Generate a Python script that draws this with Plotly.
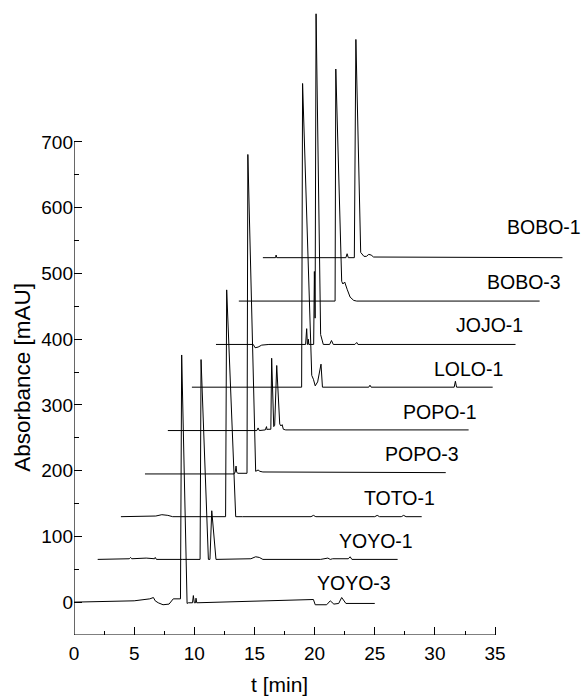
import plotly.graph_objects as go

# Sample names (bottom to top)
names = ["YOYO-3", "YOYO-1", "TOTO-1", "POPO-3", "POPO-1", "LOLO-1", "JOJO-1", "BOBO-3", "BOBO-1"]

# Baseline absorbance of each stacked chromatogram [mAU]
baselines = [0, 65, 130, 195, 261, 327, 392, 458, 524]

# Retention times [min] and absorbance above baseline [mAU]
yoyo3_t = [0, 5.0, 6.3, 6.6, 6.75, 7.0, 7.4, 7.9, 8.25, 8.4, 8.85, 8.95, 9.4, 9.5, 9.85, 9.92, 10.0, 10.1, 10.14, 10.2, 12.0, 19.9, 20.05, 21.0, 21.3, 21.6, 22.0, 22.25, 22.6, 25.0]
yoyo3_a = [0, 2, 5, 7, 2, -1, -4, -3, 5, 5, 5, 376, -2, -1, -1, 10, -1, -1, 6, -1, 0, 4, -4, -4, 2, -3, -2, 7, -2, -2]

yoyo1_t = [1.97, 4.6, 4.7, 4.8, 6.0, 6.7, 6.75, 6.85, 9.0, 10.48, 10.56, 11.17, 11.3, 11.45, 11.8, 12.5, 14.7, 15.1, 15.4, 15.7, 20.5, 21.1, 21.3, 21.5, 22.8, 22.95, 23.1, 26.9]
yoyo1_a = [0, 1, 3, 1, 2, 1, 3, 0, 0, 0, 304, 0, 0, 74, 0, 0, 1, 4, 3, 0, 0, 2, 0, 1, 1, 4, 0, 0]

toto1_t = [3.9, 6.8, 7.3, 7.8, 8.2, 12.6, 12.69, 13.44, 14.0, 19.7, 19.9, 20.1, 25.0, 25.2, 25.4, 27.2, 27.4, 27.6, 28.9]
toto1_a = [0, 1, 3, 2, 0, 0, 345, 0, 0, 0, 2, 0, 0, 2, 0, 0, 2, 0, 0]

popo3_t = [5.9, 13.3, 13.4, 13.47, 13.52, 13.6, 14.38, 14.45, 15.1, 15.3, 15.45, 15.7, 30.9]
popo3_a = [0, 0, 3, 12, 3, 1, 1, 486, 4, 6, 4, 3, 2]

popo1_t = [7.8, 15.2, 15.3, 15.4, 15.9, 16.0, 16.05, 16.1, 16.36, 16.43, 16.6, 16.68, 16.85, 17.1, 17.2, 17.3, 17.4, 17.6, 32.8]
popo1_a = [0, 0, 4, 0, 1, 6, 1, 2, 2, 110, 6, 8, 99, 10, 7, 9, 2, 1, 1]

lolo1_t = [9.8, 18.92, 19.0, 19.76, 19.9, 20.05, 20.25, 20.53, 20.65, 24.5, 24.6, 24.7, 31.6, 31.7, 31.8, 34.8]
lolo1_a = [0, 0, 462, 18, 12, 2, 8, 35, 0, 0, 3, 0, 0, 9, 0, 0]

jojo1_t = [11.8, 14.9, 15.05, 15.3, 15.6, 16.2, 19.25, 19.34, 19.4, 19.44, 19.48, 19.52, 19.92, 19.98, 20.04, 20.12, 20.5, 20.72, 21.25, 21.4, 21.55, 23.35, 23.5, 23.6, 36.7]
jojo1_a = [0, 0, -5, -4, -1, 0, 0, 24, 0, 0, 8, 0, 0, 111, 40, 503, 15, 0, 0, 6, 0, 0, 3, 0, 0]

bobo3_t = [13.7, 21.7, 21.76, 22.25, 22.35, 22.5, 22.7, 22.95, 23.25, 23.5, 38.7]
bobo3_a = [0, 0, 353, 30, 26, 29, 18, 6, 1, 0, 0]

bobo1_t = [15.7, 16.75, 16.8, 16.85, 22.6, 22.7, 22.8, 23.3, 23.43, 23.83, 24.1, 24.3, 24.5, 24.7, 24.9, 40.6]
bobo1_a = [0, 0, 4, 0, 0, 6, 0, 0, 332, 8, 2, 2, 5, 4, 1, 0]

times = [yoyo3_t, yoyo1_t, toto1_t, popo3_t, popo1_t, lolo1_t, jojo1_t, bobo3_t, bobo1_t]
absorb = [yoyo3_a, yoyo1_a, toto1_a, popo3_a, popo1_a, lolo1_a, jojo1_a, bobo3_a, bobo1_a]

# Label anchor (right end) positions in data units
label_t = [26.5, 28.35, 30.17, 32.17, 33.67, 35.83, 37.49, 40.65, 42.31]
label_a = [29, 93, 158, 225, 290, 355, 422, 487, 571]

x_ticks = [0, 5, 10, 15, 20, 25, 30, 35]
x_minor = [2.5, 7.5, 12.5, 17.5, 22.5, 27.5, 32.5]
y_ticks = [0, 100, 200, 300, 400, 500, 600, 700]
y_minor = [50, 150, 250, 350, 450, 550, 650]

FONT = "Liberation Sans, Arial, Helvetica, sans-serif"

fig = go.Figure()
for name, base, t, a in zip(names, baselines, times, absorb):
    fig.add_trace(go.Scatter(
        x=t, y=[base + v for v in a], mode="lines", name=name,
        line=dict(color="black", width=1), showlegend=False,
    ))

for name, lx, ly in zip(names, label_t, label_a):
    fig.add_annotation(x=lx, y=ly, xref="x", yref="y", text=name, showarrow=False,
                       xanchor="right", yanchor="middle",
                       font=dict(family=FONT, size=19.5, color="black"))

# axis lines (only over the labelled span)
fig.add_shape(type="line", xref="x", yref="y", x0=0, x1=x_ticks[-1], y0=-50, y1=-50,
              line=dict(color="black", width=1.2), layer="above")
fig.add_shape(type="line", xref="x", yref="y", x0=0, x1=0, y0=-50, y1=y_ticks[-1],
              line=dict(color="black", width=1.2), layer="above")

fig.add_annotation(x=17.1, y=-0.0985, xref="x", yref="paper", text="t [min]", showarrow=False,
                   xanchor="center", yanchor="bottom", font=dict(family=FONT, size=21, color="black"))
fig.add_annotation(x=-0.1, y=0.405, xref="paper", yref="paper", text="Absorbance [mAU]",
                   showarrow=False, textangle=-90, xanchor="center", yanchor="middle",
                   font=dict(family=FONT, size=22.5, color="black"))

fig.update_layout(
    width=584, height=697,
    margin=dict(l=74, r=0, t=0, b=62),
    paper_bgcolor="white", plot_bgcolor="white",
    font=dict(family=FONT, color="black"),
    xaxis=dict(range=[0, 42.39], showline=False, showgrid=False, zeroline=False,
               tickmode="array", tickvals=x_ticks, ticktext=[str(v) for v in x_ticks],
               ticks="inside", ticklen=8, tickwidth=1, tickcolor="black", ticklabelstandoff=5,
               tickfont=dict(family=FONT, size=19, color="black"),
               minor=dict(tickmode="array", tickvals=x_minor, ticks="inside", ticklen=4,
                          tickwidth=1, tickcolor="black", showgrid=False)),
    yaxis=dict(range=[-50, 916], showline=False, showgrid=False, zeroline=False,
               tickmode="array", tickvals=y_ticks, ticktext=[str(v) for v in y_ticks],
               ticks="inside", ticklen=8, tickwidth=1, tickcolor="black",
               tickfont=dict(family=FONT, size=19, color="black"),
               minor=dict(tickmode="array", tickvals=y_minor, ticks="inside", ticklen=5,
                          tickwidth=1, tickcolor="black", showgrid=False)),
)

fig.write_html("out.html")
